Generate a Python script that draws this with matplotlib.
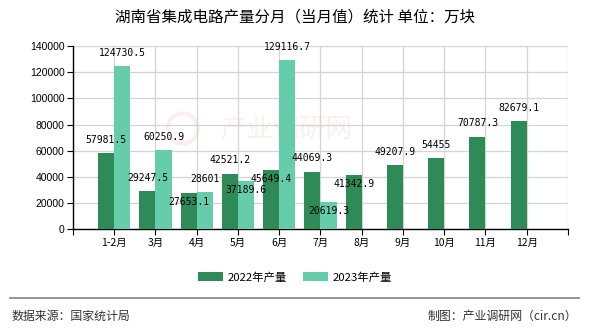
import matplotlib.pyplot as plt
from matplotlib.patches import Ellipse
import numpy as np

plt.rcParams['font.family'] = ['Noto Sans CJK SC', 'DejaVu Sans']

# 数据
months = ['1-2月', '3月', '4月', '5月', '6月', '7月', '8月', '9月', '10月', '11月', '12月']
y2022 = [57981.5, 29247.5, 27653.1, 42521.2, 45649.4, 44069.3, 41342.9, 49207.9, 54455, 70787.3, 82679.1]
y2023 = [124730.5, 60250.9, 28601, 37189.6, 129116.7, 20619.3]
lab2022 = ['57981.5', '29247.5', '27653.1', '42521.2', '45649.4', '44069.3', '41342.9', '49207.9', '54455', '70787.3', '82679.1']
lab2023 = ['124730.5', '60250.9', '28601', '37189.6', '129116.7', '20619.3']
# 标签落在柱顶下方的那几个
below2022 = {2, 4, 6}
below2023 = {3, 5}

c2022 = '#2e8b57'
c2023 = '#66cdaa'

fig = plt.figure(figsize=(5.9, 3.3), dpi=100)
ax = fig.add_axes([0.1237, 0.305, 0.839, 0.5556])

x = np.arange(len(months))
w = 0.39
ax.bar(x[:len(y2022)] - w / 2, y2022, w, color=c2022, zorder=3, label='2022年产量')
ax.bar(x[:len(y2023)] + w / 2, y2023, w, color=c2023, zorder=3, label='2023年产量')

for i, v in enumerate(y2022):
    dy = -6.5 if i in below2022 else 9.5
    ax.annotate(lab2022[i], (x[i] - w / 2, v), xytext=(0, dy), textcoords='offset points',
                ha='center', va='center', fontsize=7, family='DejaVu Sans Mono', zorder=5)
for i, v in enumerate(y2023):
    dy = -6.5 if i in below2023 else 9.5
    ax.annotate(lab2023[i], (x[i] + w / 2, v), xytext=(0, dy), textcoords='offset points',
                ha='center', va='center', fontsize=7, family='DejaVu Sans Mono', zorder=5)

ax.set_xlim(-1, len(months))
ax.set_ylim(0, 140000)
ax.set_xticks(np.arange(-1, len(months) + 1))
ax.set_xticklabels([''] + months + [''], fontsize=7.5)
ax.set_yticks(np.arange(0, 140001, 20000))
ax.set_yticklabels([str(v) for v in range(0, 140001, 20000)], fontsize=7.5, family='Liberation Sans')
ax.grid(True, color='#d4d4d4', lw=0.9, zorder=0)
ax.spines['top'].set_visible(False)
ax.spines['right'].set_visible(False)
ax.spines['left'].set_linewidth(1)
ax.spines['bottom'].set_linewidth(1)
ax.tick_params(axis='both', length=4, width=0.8, pad=2)

# 水印
ax.text(0.43, 0.55, '产业调研网', transform=ax.transAxes, fontsize=19, color='#fcefef',
        ha='center', va='center', zorder=1)
ax.add_patch(Ellipse((0.222, 0.55), 0.06, 0.165, transform=ax.transAxes, fill=False,
                     ec='#fcefef', lw=3, zorder=1))

fig.text(0.5, 0.948, '湖南省集成电路产量分月（当月值）统计 单位：万块', ha='center', va='center',
         fontsize=11.2, fontweight='medium')

leg = fig.legend(loc='center', bbox_to_anchor=(0.5, 0.16), ncol=2, frameon=False,
                 fontsize=8.2, handlelength=2.2, handleheight=0.9, columnspacing=1.4,
                 handletextpad=0.4)

fig.add_artist(plt.Line2D([0.017, 0.981], [0.097, 0.097], color='#808080', lw=1.2))
fig.text(0.019, 0.042, '数据来源：国家统计局', ha='left', va='center', fontsize=8.6, color='#333333')
fig.text(0.979, 0.042, '制图：产业调研网（cir.cn）', ha='right', va='center', fontsize=8.6, color='#333333')

fig.savefig('out.png', dpi=100)
